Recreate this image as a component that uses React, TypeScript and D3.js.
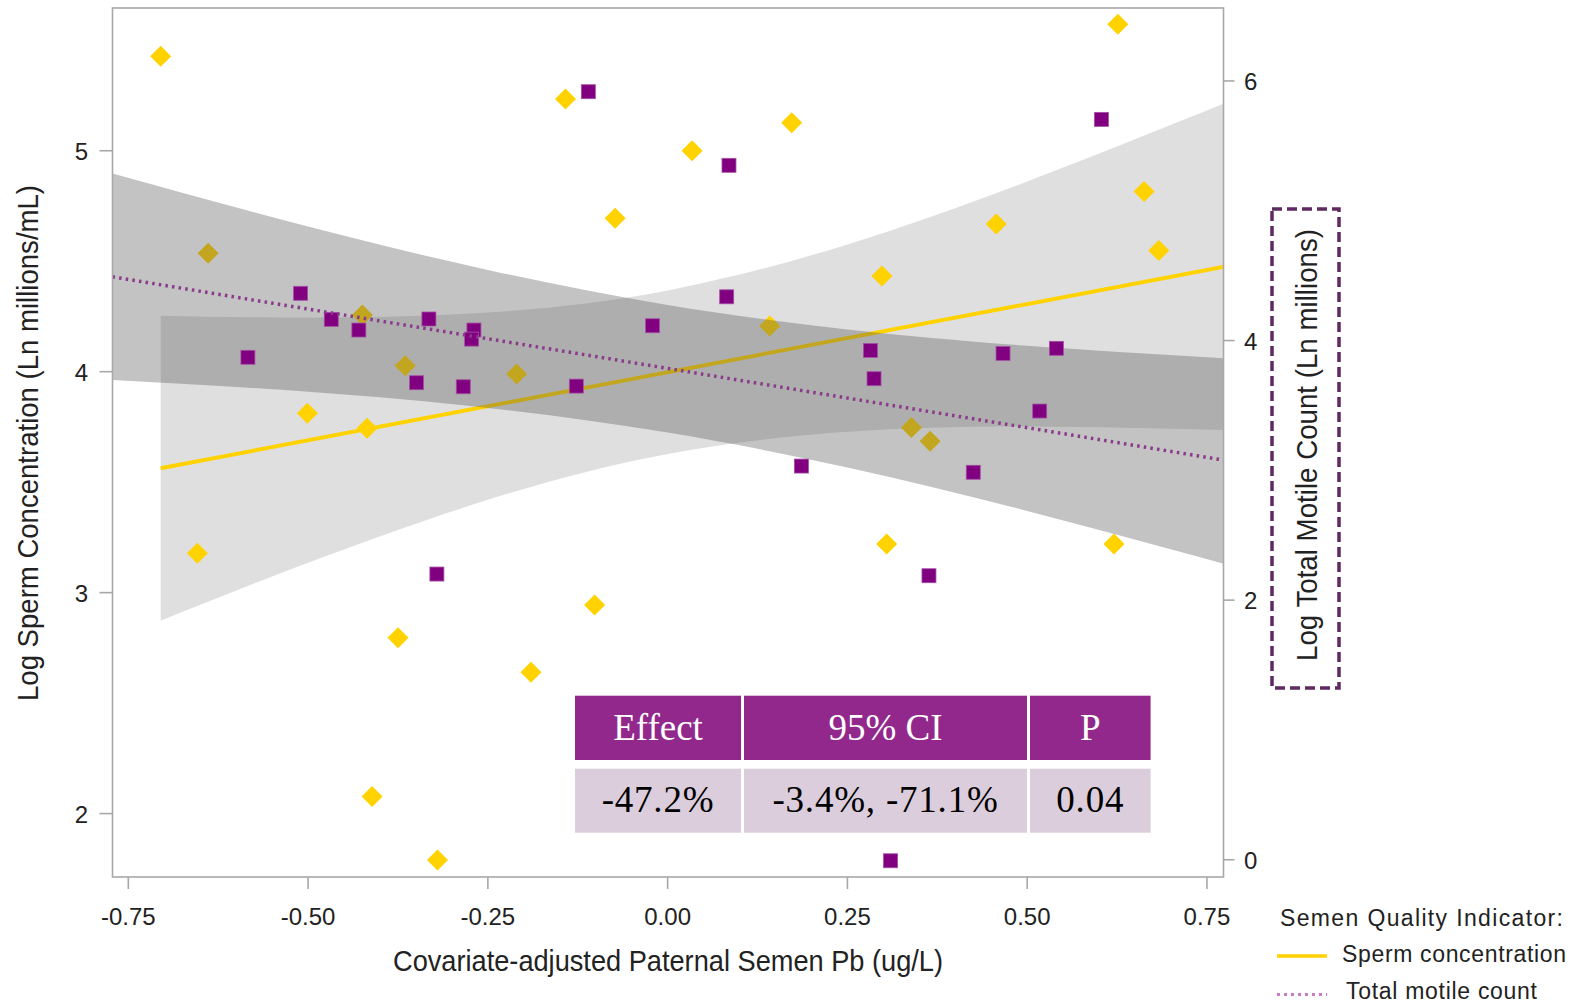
import React from 'react';
import * as d3 from 'd3';

// ---- data ----
const xTicks = [-0.75, -0.5, -0.25, 0, 0.25, 0.5, 0.75];
const leftTicks = [2, 3, 4, 5];
const rightTicks = [0, 2, 4, 6];

// Sperm concentration (left axis), yellow diamonds
const scX = [-0.705, -0.639, -0.4245, -0.365, -0.501, -0.418, -0.142, 0.034, 0.1725, -0.073, 0.142, -0.21, 0.626, 0.6625, 0.457, 0.683, 0.298, 0.339, 0.365, -0.654, -0.375, -0.411, -0.32, -0.1015, -0.19, 0.3046, 0.6207];
const scY = [5.428, 4.536, 4.257, 4.027, 3.812, 3.744, 5.234, 5.0, 5.127, 4.694, 4.207, 3.99, 5.572, 4.815, 4.668, 4.548, 4.433, 3.747, 3.685, 3.178, 2.796, 2.077, 1.79, 2.944, 2.64, 3.22, 3.22];

// Total motile count (right axis), purple squares
const tmcX = [-0.5104, -0.4678, -0.4294, -0.332, -0.2694, -0.2726, -0.5837, -0.3491, -0.2842, -0.1103, 0.0853, 0.0821, -0.0209, -0.127, 0.282, 0.287, 0.6032, 0.4664, 0.5406, 0.5174, -0.3209, 0.186, 0.425, 0.3634, 0.31];
const tmcY = [4.364, 4.163, 4.081, 4.166, 4.081, 4.011, 3.871, 3.675, 3.644, 5.917, 5.35, 4.337, 4.114, 3.649, 3.924, 3.706, 5.704, 3.901, 3.94, 3.457, 2.201, 3.033, 2.985, 2.188, -0.008];

// fitted lines
const scFitX = [-0.705, 0.774];
const scFitY = [3.563, 4.475];
const tmcFitX = [-0.772, 0.773];
const tmcFitY = [4.491, 3.079];

// confidence bands
const scBandX = [-0.705, -0.5, -0.25, 0, 0.25, 0.5, 0.774];
const scBandLo = [2.873, 3.135, 3.42, 3.628, 3.728, 3.752, 3.736];
const scBandHi = [4.253, 4.245, 4.268, 4.368, 4.576, 4.861, 5.214];
const tmcBandX = [-0.772, -0.5, -0.25, 0, 0.25, 0.5, 0.773];
const tmcBandLo = [3.696, 3.606, 3.481, 3.291, 3.022, 2.687, 2.281];
const tmcBandHi = [5.287, 4.878, 4.544, 4.274, 4.085, 3.96, 3.864];

const tableHeaders = ['Effect', '95% CI', 'P'];
const tableValues = ['-47.2%', '-3.4%, -71.1%', '0.04'];

const legendTitle = 'Semen Quality Indicator:';
const legendItems = ['Sperm concentration', 'Total motile count'];

// ---- layout ----
const W = 1581;
const H = 1003;
const L = 112.5, R = 1223.5, T = 8, B = 877;

const YELLOW = '#FFD200';
const PURPLE = '#800080';
const FRAME = '#a8a8a8';
const SANS = '"Liberation Sans", Arial, sans-serif';
const SERIF = '"Liberation Serif", "Times New Roman", serif';

export default function App() {
  const x = d3.scaleLinear().domain([-0.772, 0.773]).range([L, R]);
  const yL = d3.scaleLinear().domain([1.713, 5.646]).range([B, T]);
  const yR = d3.scaleLinear().domain([-0.133, 6.562]).range([B, T]);

  const scBand = d3.area<number>()
    .x((_, i) => x(scBandX[i]))
    .y0((_, i) => yL(scBandLo[i]))
    .y1((_, i) => yL(scBandHi[i]))
    .curve(d3.curveNatural)(scBandX);
  const tmcBand = d3.area<number>()
    .x((_, i) => x(tmcBandX[i]))
    .y0((_, i) => yR(tmcBandLo[i]))
    .y1((_, i) => yR(tmcBandHi[i]))
    .curve(d3.curveNatural)(tmcBandX);
  const scLine = d3.line<number>().x((d) => x(d)).y((_, i) => yL(scFitY[i]))(scFitX);
  const tmcLine = d3.line<number>().x((d) => x(d)).y((_, i) => yR(tmcFitY[i]))(tmcFitX);

  const fmtX = (v: number) => d3.format('.2f')(v).replace('−', '-');
  const diamond = (cx: number, cy: number, r: number) =>
    `M${cx},${cy - r}L${cx + r},${cy}L${cx},${cy + r}L${cx - r},${cy}Z`;

  // table geometry
  const colEdges = [575, 741, 744, 1027, 1030, 1150.6];
  const cols = [0, 1, 2].map((i) => ({ x0: colEdges[i * 2], x1: colEdges[i * 2 + 1] }));
  const headY0 = 695.7, headY1 = 760, bodyY0 = 768.7, bodyY1 = 832.7;

  return (
    <svg width={W} height={H} viewBox={`0 0 ${W} ${H}`} style={{ position: 'absolute', left: 0, top: 0, background: '#fff' }}>
      <defs>
        <clipPath id="plotClip">
          <rect x={L} y={T} width={R - L} height={B - T} />
        </clipPath>
      </defs>
      <rect x={0} y={0} width={W} height={H} fill="#fff" />

      <g clipPath="url(#plotClip)">
        <path d={scBand || ''} fill="#dfdfdf" />
        <path d={scLine || ''} fill="none" stroke={YELLOW} strokeWidth={4} />
        {scX.map((v, i) => (
          <path key={'d' + i} d={diamond(x(v), yL(scY[i]), 10.5)} fill={YELLOW} />
        ))}
        <path d={tmcBand || ''} fill="#5a5a5a" fillOpacity={0.36} />
        {tmcX.map((v, i) => (
          <rect key={'s' + i} x={x(v) - 7} y={yR(tmcY[i]) - 7} width={14} height={14} fill={PURPLE} stroke="#a550a5" strokeWidth={0.8} />
        ))}
        <path d={tmcLine || ''} fill="none" stroke="#8a3a8a" strokeWidth={3.5} strokeDasharray="2.5 4.2" />
      </g>

      {/* frame */}
      <rect x={L} y={T} width={R - L} height={B - T} fill="none" stroke={FRAME} strokeWidth={1.6} />

      {/* x axis */}
      {xTicks.map((t) => (
        <g key={'xt' + t}>
          <line x1={x(t)} x2={x(t)} y1={B} y2={B + 12} stroke={FRAME} strokeWidth={1.6} />
          <text x={x(t)} y={925} textAnchor="middle" fontFamily={SANS} fontSize={24} fill="#222">{fmtX(t)}</text>
        </g>
      ))}
      {/* left axis */}
      {leftTicks.map((t) => (
        <g key={'yl' + t}>
          <line x1={L - 13} x2={L} y1={yL(t)} y2={yL(t)} stroke={FRAME} strokeWidth={1.6} />
          <text x={88} y={yL(t) + 9} textAnchor="end" fontFamily={SANS} fontSize={24} fill="#222">{t}</text>
        </g>
      ))}
      {/* right axis */}
      {rightTicks.map((t) => (
        <g key={'yr' + t}>
          <line x1={R} x2={R + 11} y1={yR(t)} y2={yR(t)} stroke={FRAME} strokeWidth={1.6} />
          <text x={1244} y={yR(t) + 9} textAnchor="start" fontFamily={SANS} fontSize={24} fill="#222">{t}</text>
        </g>
      ))}

      {/* axis titles */}
      <text x={668} y={971} textAnchor="middle" fontFamily={SANS} fontSize={29} fill="#222" textLength={550} lengthAdjust="spacingAndGlyphs">
        Covariate-adjusted Paternal Semen Pb (ug/L)
      </text>
      <text transform="translate(38,443) rotate(-90)" textAnchor="middle" fontFamily={SANS} fontSize={30} fill="#222" textLength={516} lengthAdjust="spacingAndGlyphs">
        Log Sperm Concentration (Ln millions/mL)
      </text>
      <text transform="translate(1317,445) rotate(-90)" textAnchor="middle" fontFamily={SANS} fontSize={29} fill="#222" textLength={432} lengthAdjust="spacingAndGlyphs">
        Log Total Motile Count (Ln millions)
      </text>
      <rect x={1272} y={209} width={67} height={479} fill="none" stroke="#5e2a60" strokeWidth={3.5} strokeDasharray="10 5" />

      {/* table */}
      {cols.map((c, i) => (
        <g key={'tc' + i}>
          <rect x={c.x0} y={headY0} width={c.x1 - c.x0} height={headY1 - headY0} fill="#93288c" />
          <rect x={c.x0} y={bodyY0} width={c.x1 - c.x0} height={bodyY1 - bodyY0} fill="#dbcddb" />
          <text x={(c.x0 + c.x1) / 2} y={740} textAnchor="middle" fontFamily={SERIF} fontSize={37} fill="#fff">{tableHeaders[i]}</text>
          <text x={(c.x0 + c.x1) / 2} y={811.5} textAnchor="middle" fontFamily={SERIF} fontSize={37} fill="#000" letterSpacing={0.8}>{tableValues[i]}</text>
        </g>
      ))}

      {/* legend */}
      <text x={1280} y={926} fontFamily={SANS} fontSize={23} fill="#222" textLength={283} lengthAdjust="spacing">{legendTitle}</text>
      <line x1={1277} x2={1327} y1={956} y2={956} stroke={YELLOW} strokeWidth={3.5} />
      <text x={1342} y={962} fontFamily={SANS} fontSize={23} fill="#222" textLength={224} lengthAdjust="spacing">{legendItems[0]}</text>
      <line x1={1277} x2={1327} y1={994.5} y2={994.5} stroke="#c87cc8" strokeWidth={3} strokeDasharray="3 4" />
      <text x={1346} y={999} fontFamily={SANS} fontSize={23} fill="#222" textLength={191} lengthAdjust="spacing">{legendItems[1]}</text>
    </svg>
  );
}
